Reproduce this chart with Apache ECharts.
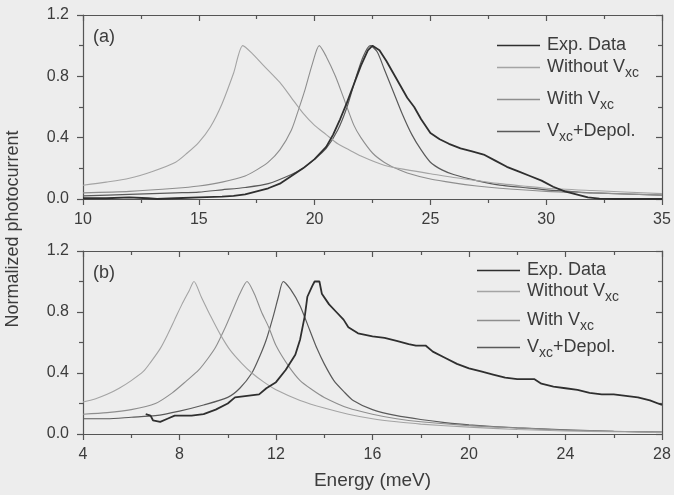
<!DOCTYPE html>
<html>
<head>
<meta charset="utf-8">
<script src="https://cdn.jsdelivr.net/npm/echarts@6/dist/echarts.min.js"></script>
<style>
  html, body { margin: 0; padding: 0; background: #ededed; }
  #main { width: 674px; height: 495px; }
</style>
</head>
<body>
<div id="main"></div>
<script>
var chartDom = document.getElementById('main');
var myChart = echarts.init(chartDom);
var option;

// panel (a)
var aExp = [[10,0.005],[11,0.005],[12,0.01],[12.8,0.005],[13.2,0],[14,0.005],[15,0.01],[16,0.015],[16.5,0.02],[17,0.03],[17.5,0.05],[18,0.07],[18.5,0.1],[19,0.15],[19.5,0.2],[20,0.26],[20.5,0.34],[20.8,0.42],[21.1,0.52],[21.4,0.63],[21.7,0.75],[22,0.87],[22.3,0.97],[22.5,1.0],[22.8,0.97],[23.1,0.9],[23.4,0.82],[23.7,0.74],[24,0.66],[24.3,0.6],[24.6,0.52],[25,0.43],[25.4,0.39],[25.8,0.36],[26.3,0.33],[26.8,0.31],[27.3,0.29],[27.8,0.25],[28.3,0.21],[28.8,0.18],[29.3,0.15],[29.8,0.12],[30.3,0.08],[30.8,0.05],[31.3,0.03],[31.8,0.01],[32.3,0.002],[33,0],[35,0]];
var aWithout = [[10,0.09],[11,0.11],[12,0.135],[13,0.18],[14,0.24],[14.5,0.3],[15,0.37],[15.5,0.47],[16,0.62],[16.5,0.82],[16.9,1.0],[17.3,0.95],[17.8,0.87],[18.5,0.76],[19,0.66],[19.5,0.56],[20,0.48],[20.5,0.42],[21,0.36],[21.5,0.32],[22,0.28],[23,0.22],[24,0.19],[25,0.165],[26,0.14],[27,0.12],[28,0.1],[29,0.085],[30,0.07],[32,0.055],[35,0.035]];
var aWith = [[10,0.04],[12,0.05],[14,0.07],[15,0.085],[16,0.11],[17,0.15],[17.5,0.19],[18,0.24],[18.5,0.32],[19,0.45],[19.3,0.58],[19.6,0.72],[19.9,0.88],[20.2,1.0],[20.5,0.93],[20.9,0.8],[21.3,0.64],[21.7,0.48],[22,0.4],[22.5,0.3],[23,0.24],[23.5,0.2],[24,0.17],[25,0.13],[26,0.105],[27,0.085],[28,0.07],[30,0.05],[32,0.04],[35,0.025]];
var aDepol = [[10,0.02],[12,0.03],[14,0.04],[15,0.045],[16,0.06],[17,0.075],[18,0.1],[19,0.16],[19.5,0.2],[20,0.26],[20.5,0.33],[21,0.45],[21.4,0.6],[21.8,0.8],[22.1,0.93],[22.4,1.0],[22.7,0.96],[23,0.85],[23.4,0.7],[23.8,0.55],[24.2,0.42],[24.6,0.32],[25,0.24],[25.5,0.19],[26,0.16],[27,0.12],[28,0.09],[29,0.075],[30,0.06],[31,0.05],[32,0.04],[35,0.025]];

// panel (b)
var bExp = [[6.6,0.13],[6.8,0.12],[6.9,0.09],[7.2,0.08],[7.5,0.1],[7.8,0.12],[8.5,0.12],[9,0.13],[9.5,0.16],[10,0.2],[10.3,0.24],[10.8,0.25],[11.3,0.26],[11.6,0.3],[12,0.34],[12.4,0.42],[12.8,0.52],[13,0.62],[13.2,0.78],[13.3,0.9],[13.5,0.97],[13.6,1.0],[13.8,1.0],[13.9,0.92],[14.2,0.85],[14.5,0.8],[14.8,0.75],[15,0.7],[15.4,0.66],[16,0.64],[16.5,0.63],[17,0.61],[17.5,0.59],[17.8,0.58],[18.2,0.58],[18.5,0.54],[19,0.5],[19.5,0.46],[20,0.43],[20.5,0.41],[21,0.39],[21.5,0.37],[22,0.36],[22.7,0.36],[23,0.33],[23.5,0.31],[24,0.3],[24.5,0.29],[25,0.27],[25.5,0.26],[26,0.26],[26.5,0.25],[27,0.24],[27.5,0.22],[28,0.19]];
var bWithout = [[4,0.21],[4.5,0.23],[5,0.26],[5.5,0.3],[6,0.35],[6.5,0.41],[6.8,0.47],[7.2,0.56],[7.5,0.65],[7.8,0.75],[8.1,0.85],[8.4,0.94],[8.6,1.0],[8.9,0.9],[9.3,0.77],[9.7,0.65],[10.1,0.55],[10.6,0.46],[11,0.4],[11.5,0.34],[12,0.29],[13,0.22],[14,0.17],[15,0.13],[16,0.1],[17,0.08],[18,0.065],[20,0.045],[22,0.03],[24,0.02],[26,0.015],[28,0.01]];
var bWith = [[4,0.13],[5,0.14],[6,0.16],[7,0.2],[7.7,0.27],[8.3,0.35],[8.8,0.42],[9.2,0.5],[9.5,0.57],[9.9,0.7],[10.2,0.81],[10.5,0.92],[10.8,1.0],[11.1,0.92],[11.4,0.8],[11.7,0.7],[12,0.58],[12.5,0.45],[13,0.35],[13.5,0.29],[14,0.24],[15,0.17],[16,0.13],[17,0.1],[18,0.08],[20,0.055],[22,0.04],[24,0.025],[26,0.018],[28,0.012]];
var bDepol = [[4,0.1],[5,0.1],[6,0.11],[7,0.12],[8,0.15],[9,0.19],[10,0.24],[10.5,0.3],[11,0.4],[11.3,0.5],[11.6,0.62],[11.9,0.78],[12.1,0.9],[12.3,1.0],[12.6,0.95],[13,0.84],[13.4,0.68],[13.7,0.56],[14,0.46],[14.4,0.35],[14.8,0.28],[15.2,0.22],[16,0.16],[17,0.12],[18,0.095],[19,0.075],[20,0.06],[22,0.04],[24,0.028],[26,0.018],[28,0.012]];

var names = ['Exp. Data', 'Without Vxc', 'With Vxc', 'Vxc+Depol.'];
var colors = ['#2f2f2f', '#a4a4a4', '#8e8e8e', '#5a5a5a'];
var widths = [1.8, 1.1, 1.1, 1.2];

var textColor = '#3c3c3c';
var axisColor = '#555';
var font = 'Liberation Sans, Arial, sans-serif';

function xAx(grid, min, max, step, bottom) {
    return {
        type: 'value', gridIndex: grid, min: min, max: max, interval: step,
        position: bottom ? 'bottom' : 'top',
        axisLine: { show: true, onZero: false, lineStyle: { color: axisColor, width: 1.2 } },
        axisTick: { show: true, inside: !bottom, length: 6, lineStyle: { color: axisColor, width: 1.2 } },
        minorTick: { show: true, splitNumber: 2, length: 4, lineStyle: { color: axisColor, width: 1.2 } },
        axisLabel: { show: bottom, margin: 13, color: textColor, fontSize: 16, fontFamily: font },
        splitLine: { show: false }
    };
}
function yAx(grid, left) {
    return {
        type: 'value', gridIndex: grid, min: 0, max: 1.2, interval: 0.4,
        position: left ? 'left' : 'right',
        axisLine: { show: true, onZero: false, lineStyle: { color: axisColor, width: 1.2 } },
        axisTick: { show: true, inside: !left, length: 6, lineStyle: { color: axisColor, width: 1.2 } },
        minorTick: { show: true, splitNumber: 2, length: 4, lineStyle: { color: axisColor, width: 1.2 } },
        axisLabel: { show: left, margin: 14, color: textColor, fontSize: 16, fontFamily: font,
            formatter: function (v) { return v.toFixed(1); } },
        splitLine: { show: false }
    };
}

var xa = [xAx(0, 10, 35, 5, true), xAx(0, 10, 35, 5, false), xAx(1, 4, 28, 4, true), xAx(1, 4, 28, 4, false)];
xa[2].name = 'Energy (meV)';
xa[2].nameLocation = 'middle';
xa[2].nameGap = 37;
xa[2].nameTextStyle = { color: textColor, fontSize: 19, fontFamily: font };

var panels = [[aExp, aWithout, aWith, aDepol], [bExp, bWithout, bWith, bDepol]];
var series = [];
panels.forEach(function (p, k) {
    p.forEach(function (d, i) {
        series.push({
            name: names[i], type: 'line', xAxisIndex: k * 2, yAxisIndex: k * 2,
            data: d, showSymbol: false, symbol: 'none', z: 10 - i,
            smooth: i === 0 ? false : 0.25,
            lineStyle: { color: colors[i], width: widths[i] },
            itemStyle: { color: colors[i] }
        });
    });
});

var rich = {
    t: { color: textColor, fontSize: 18, fontFamily: font, lineHeight: 19, verticalAlign: 'top' },
    s: { color: textColor, fontSize: 14, fontFamily: font, lineHeight: 15, verticalAlign: 'top', padding: [8, 0, 0, 0] }
};
function legendText(name) {
    if (name === 'Without Vxc') return '{t|Without V}{s|xc}';
    if (name === 'With Vxc') return '{t|With V}{s|xc}';
    if (name === 'Vxc+Depol.') return '{t|V}{s|xc}{t|+Depol.}';
    return '{t|' + name + '}';
}
var legendPos = [
    [497, [36, 58, 90, 122]],
    [477, [261, 282, 311, 338]]
];
var legends = [];
legendPos.forEach(function (lp) {
    names.forEach(function (n, i) {
        legends.push({
            data: [n], left: lp[0], top: lp[1][i], padding: 0,
            itemWidth: 43, itemHeight: 1.5, icon: 'rect', selectedMode: false,
            formatter: legendText,
            textStyle: { rich: rich, padding: [0, 0, 0, 2] }
        });
    });
});

option = {
    backgroundColor: '#ededed',
    animation: false,
    grid: [
        { left: 83, top: 15, width: 579, height: 184 },
        { left: 83, top: 251, width: 579, height: 183 }
    ],
    xAxis: xa,
    yAxis: [yAx(0, true), yAx(0, false), yAx(1, true), yAx(1, false)],
    legend: legends,
    graphic: [
        { type: 'text', left: 93, top: 28, style: { text: '(a)', fill: textColor, fontSize: 18, fontFamily: font } },
        { type: 'text', left: 93, top: 264, style: { text: '(b)', fill: textColor, fontSize: 18, fontFamily: font } },
        { type: 'text', x: 4, y: 229, rotation: Math.PI / 2,
          style: { text: 'Normalized photocurrent', fill: textColor, fontSize: 18, fontFamily: font,
                   align: 'center', verticalAlign: 'top' } }
    ],
    series: series
};

option && myChart.setOption(option);
</script>
</body>
</html>
